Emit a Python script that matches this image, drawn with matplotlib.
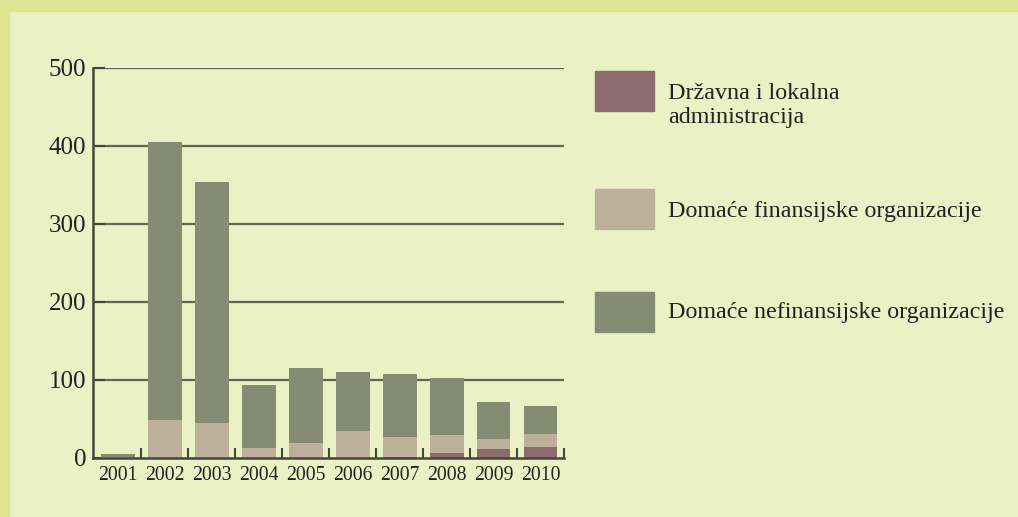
import matplotlib
matplotlib.use("Agg")
import matplotlib.pyplot as plt
from matplotlib.patches import Rectangle
import numpy as np

years = ["2001", "2002", "2003", "2004", "2005", "2006", "2007", "2008", "2009", "2010"]
admin = [0, 0, 0, 0, 0, 0, 1, 7, 12, 14]
finans = [1, 49, 45, 13, 19, 34, 26, 23, 13, 17]
nefinans = [4, 356, 309, 81, 96, 76, 81, 73, 47, 36]
labels = ["Državna i lokalna\nadministracija", "Domaće finansijske organizacije",
          "Domaće nefinansijske organizacije"]
colors = ["#8d6b6f", "#bcb09a", "#868b74"]

W, H = 1018, 517
plt.rcParams['font.family'] = ['Liberation Serif', 'DejaVu Serif']
fig = plt.figure(figsize=(W / 100, H / 100), dpi=100, facecolor="#e9f1c5")

# border bands
fig.patches.append(Rectangle((0, 0), 9 / W, 1, transform=fig.transFigure, color="#dbe592", zorder=0))
fig.patches.append(Rectangle((0, 1 - 11 / H), 1, 11 / H, transform=fig.transFigure, color="#dbe592", zorder=0))

ax = fig.add_axes([93 / W, 1 - 458 / H, (564 - 93) / W, (458 - 68) / H])
ax.set_facecolor("none")
x = np.arange(len(years))
bw = 0.72
b1 = np.array(admin)
b2 = b1 + np.array(finans)
ax.bar(x, admin, bw, color=colors[0], zorder=3)
ax.bar(x, finans, bw, bottom=b1, color=colors[1], zorder=3)
ax.bar(x, nefinans, bw, bottom=b2, color=colors[2], zorder=3)

ax.set_xlim(-0.53, 9.5)
ax.set_ylim(0, 500)
for v in [100, 200, 300, 400, 500]:
    ax.axhline(v, color="#62664f", lw=1.6, zorder=1)

for s in ["top", "right"]:
    ax.spines[s].set_visible(False)
for s in ["left", "bottom"]:
    ax.spines[s].set_color("#45463a")
    ax.spines[s].set_linewidth(1.8)
    ax.spines[s].set_zorder(4)

ax.set_yticks([0, 100, 200, 300, 400, 500])
ax.tick_params(axis="y", direction="in", length=8.5, width=1.5, color="#45463a",
               labelsize=18, pad=5, labelcolor="#222222")
ax.set_xticks(x)
ax.set_xticklabels(years)
ax.tick_params(axis="x", length=0, labelsize=14.2, pad=6, labelcolor="#222222")
ax.set_xticks(np.arange(0.5, 10, 1), minor=True)
ax.tick_params(axis="x", which="minor", direction="in", length=7.5, width=1.5, color="#45463a")

# legend
patch_y = [(71, 111), (189, 229), (292, 332)]
for i, (y0, y1) in enumerate(patch_y):
    fig.patches.append(Rectangle((595 / W, 1 - y1 / H), 59 / W, (y1 - y0) / H,
                                 transform=fig.transFigure, color=colors[i], zorder=2))
lines = labels[0].split("\n") + [labels[1], labels[2]]
baselines = [99, 123, 217, 318]
for txt, yb in zip(lines, baselines):
    fig.text(668 / W, 1 - yb / H, txt, fontsize=17.3, color="#222222",
             va="baseline", ha="left")

fig.savefig("out.png", dpi=100, facecolor=fig.get_facecolor())
